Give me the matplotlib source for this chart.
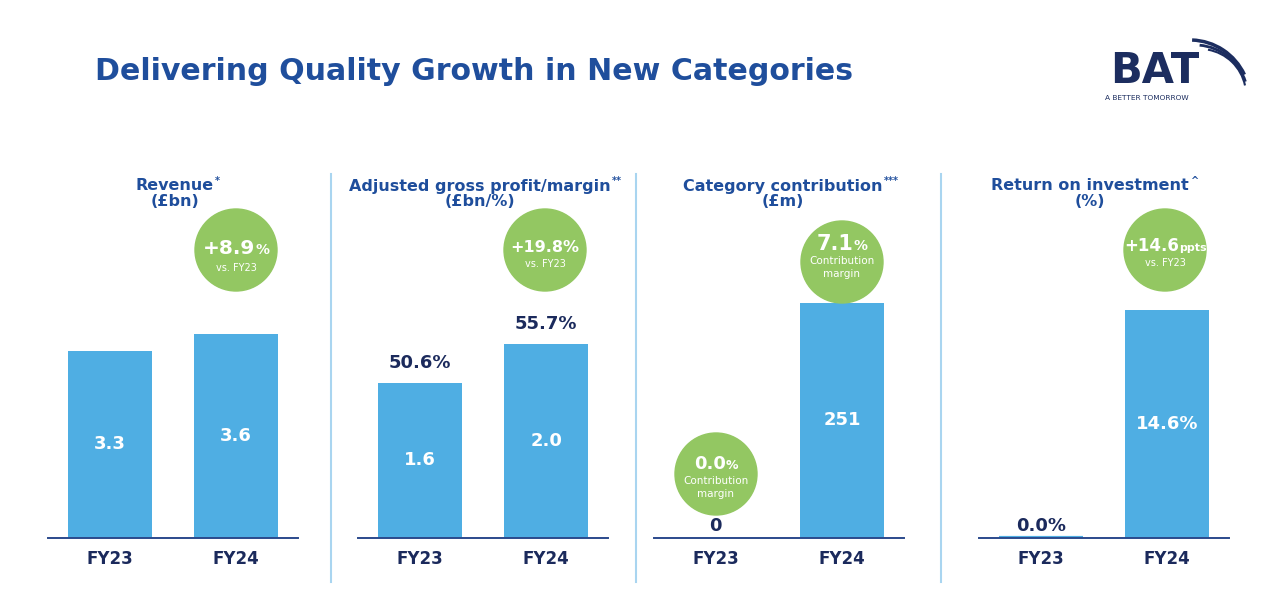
import matplotlib.pyplot as plt
from matplotlib.patches import Circle, Arc

# data
years = ["FY23", "FY24"]
revenue = [3.3, 3.6]
gross_profit = [1.6, 2.0]
gross_margin = ["50.6%", "55.7%"]
contribution = [0, 251]
roi = [0.0, 14.6]

panel_titles = ["Revenue", "Adjusted gross profit/margin", "Category contribution", "Return on investment"]
panel_marks = ["*", "**", "***", "^"]
panel_units = ["(£bn)", "(£bn/%)", "(£m)", "(%)"]

BLUE_T = "#1f4e9c"
NAVY = "#1b2a5c"
BAR = "#4faee3"
GREEN = "#93c762"
SEP = "#a9d5f0"

plt.rcParams['font.family'] = ['DejaVu Sans']

fig = plt.figure(figsize=(12.8, 6.01), dpi=100)
W, H = 1280, 601

lefts = [48, 358, 654, 979]
ymaxes = [5.29, 3.09, 320.4, 19.2]
axes = []
for i in range(4):
    ax = fig.add_axes([lefts[i] / W, (H - 538) / H, 250 / W, 300 / H])
    ax.set_xlim(-0.49, 1.49)
    ax.set_ylim(0, ymaxes[i])
    for s in ["top", "right", "left"]:
        ax.spines[s].set_visible(False)
    ax.spines["bottom"].set_color("#2b4a8c")
    ax.spines["bottom"].set_linewidth(1.4)
    ax.set_yticks([])
    ax.set_xticks([0, 1])
    ax.set_xticklabels(years, fontsize=12, fontweight="bold", color=NAVY)
    ax.tick_params(axis="x", length=0, pad=9)
    ax.patch.set_alpha(0)
    axes.append(ax)

# bars
axes[0].bar([0, 1], revenue, width=0.66, color=BAR)
for x, v in enumerate(revenue):
    axes[0].text(x, v / 2, f"{v:.1f}", ha="center", va="center", color="white", fontsize=13, fontweight="bold")

axes[1].bar([0, 1], gross_profit, width=0.66, color=BAR)
for x, v in enumerate(gross_profit):
    axes[1].text(x, v / 2, f"{v:.1f}", ha="center", va="center", color="white", fontsize=13, fontweight="bold")
    axes[1].annotate(gross_margin[x], (x, v), xytext=(0, 8), textcoords="offset points",
                     ha="center", va="bottom", color=NAVY, fontsize=13, fontweight="bold")

axes[2].bar([0, 1], contribution, width=0.66, color=BAR)
axes[2].text(1, contribution[1] / 2, f"{contribution[1]}", ha="center", va="center", color="white", fontsize=13, fontweight="bold")
axes[2].annotate(f"{contribution[0]}", (0, contribution[0]), xytext=(0, 2), textcoords="offset points",
                 ha="center", va="bottom", color=NAVY, fontsize=13, fontweight="bold")

# zero bar still shows as a thin line
axes[3].bar([0, 1], roi, width=0.66, color=BAR, edgecolor=BAR, linewidth=[3, 0])
axes[3].text(1, roi[1] / 2, f"{roi[1]:.1f}%", ha="center", va="center", color="white", fontsize=13, fontweight="bold")
axes[3].annotate(f"{roi[0]:.1f}%", (0, roi[0]), xytext=(0, 2), textcoords="offset points",
                 ha="center", va="bottom", color=NAVY, fontsize=13, fontweight="bold")

# overlay in pixel coords
ov = fig.add_axes([0, 0, 1, 1], zorder=5)
ov.set_xlim(0, W)
ov.set_ylim(H, 0)
ov.axis("off")
ov.patch.set_alpha(0)

fig.canvas.draw()
renderer = fig.canvas.get_renderer()


def mixed(x, y, parts, color="white"):
    # parts: list of (text, size); centred horizontally at x
    objs = [ov.text(0, y, t, fontsize=s, fontweight="bold", color=color, ha="left", va="baseline") for t, s in parts]
    widths = [o.get_window_extent(renderer).width for o in objs]
    cx = x - sum(widths) / 2
    for o, w in zip(objs, widths):
        o.set_x(cx)
        cx += w


ov.text(95, 72, "Delivering Quality Growth in New Categories", fontsize=21.6, fontweight="bold",
        color=BLUE_T, ha="left", va="center")

# panel titles
title_cx = [175, 480, 783, 1090]
for i in range(4):
    t = ov.text(title_cx[i], 186, panel_titles[i], fontsize=11.5, fontweight="bold", color=BLUE_T,
                ha="center", va="center")
    ext = t.get_window_extent(renderer)
    ov.text(title_cx[i] + ext.width / 2 + 1, 181, panel_marks[i], fontsize=7, fontweight="bold",
            color=BLUE_T, ha="left", va="center")
    ov.text(title_cx[i], 202, panel_units[i], fontsize=11.5, fontweight="bold", color=BLUE_T,
            ha="center", va="center")

# separators
for sx in [331, 636, 941]:
    ov.plot([sx, sx], [174, 582], color=SEP, lw=1.5)

# green circles
R = 41
circles = [(236, 250), (545, 250), (842, 262), (716, 474), (1165, 250)]
for cx, cy in circles:
    ov.add_patch(Circle((cx, cy), R, color=GREEN, zorder=1))

mixed(236, 254, [("+8.9", 14.5), ("%", 10)])
ov.text(236, 268, "vs. FY23", fontsize=7, color="white", ha="center", va="center")
mixed(545, 252, [("+19.8%", 11.5)])
ov.text(545, 264, "vs. FY23", fontsize=7, color="white", ha="center", va="center")
mixed(842, 250, [("7.1", 15), ("%", 10)])
ov.text(842, 261, "Contribution", fontsize=7.5, color="white", ha="center", va="center")
ov.text(842, 274, "margin", fontsize=7.5, color="white", ha="center", va="center")
mixed(716, 469, [("0.0", 13), ("%", 9)])
ov.text(716, 481, "Contribution", fontsize=7.5, color="white", ha="center", va="center")
ov.text(716, 494, "margin", fontsize=7.5, color="white", ha="center", va="center")
mixed(1165, 251, [("+14.6", 12), ("ppts", 8)])
ov.text(1165, 263, "vs. FY23", fontsize=7, color="white", ha="center", va="center")

# logo
LOGO = "#1c2d5f"
ov.text(1155, 71, "BAT", fontsize=30, fontweight="bold", color=LOGO, ha="center", va="center")
ov.text(1147, 98, "A BETTER TOMORROW", fontsize=5.3, color=LOGO, ha="center", va="center")
ov.add_patch(Arc((1190, 100), 120, 120, theta1=-88, theta2=-25, color=LOGO, lw=2.5))
ov.add_patch(Arc((1195, 98), 106, 106, theta1=-85, theta2=-18, color=LOGO, lw=2))
ov.add_patch(Arc((1200, 95), 92, 92, theta1=-80, theta2=-12, color=LOGO, lw=1.5))

fig.savefig("out.png", dpi=100, facecolor="white")
